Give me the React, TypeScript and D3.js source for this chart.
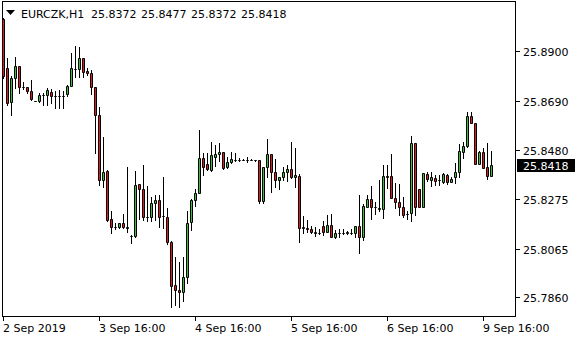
import React from "react";
import * as d3 from "d3";

const symbol = "EURCZK,H1";
const headerValues = ["25.8372", "25.8477", "25.8372", "25.8418"];

const opens = [
  25.9034, 25.8828, 25.8684, 25.8786, 25.8837, 25.8748, 25.8746, 25.8731, 25.8690, 25.8687,
  25.8716, 25.8716, 25.8727, 25.8708, 25.8708, 25.8710, 25.8718, 25.8752, 25.8826, 25.8824,
  25.8871, 25.8816, 25.8807, 25.8748, 25.8629, 25.8355, 25.8393, 25.8190, 25.8154, 25.8154,
  25.8171, 25.8154, 25.8118, 25.8116, 25.8338, 25.8317, 25.8199, 25.8199, 25.8258, 25.8271,
  25.8201, 25.8199, 25.8093, 25.7911, 25.7890, 25.7882, 25.7945, 25.8178, 25.8271, 25.8300,
  25.8448, 25.8422, 25.8397, 25.8452, 25.8465, 25.8473, 25.8410, 25.8431, 25.8439, 25.8439,
  25.8441, 25.8441, 25.8441, 25.8439, 25.8439, 25.8266, 25.8410, 25.8465, 25.8389, 25.8355,
  25.8367, 25.8389, 25.8401, 25.8367, 25.8372, 25.8154, 25.8152, 25.8148, 25.8133, 25.8131,
  25.8161, 25.8135, 25.8165, 25.8114, 25.8131, 25.8131, 25.8129, 25.8131, 25.8131, 25.8161,
  25.8114, 25.8241, 25.8275, 25.8241, 25.8237, 25.8233, 25.8372, 25.8372, 25.8279, 25.8260,
  25.8241, 25.8211, 25.8216, 25.8511, 25.8317, 25.8241, 25.8380, 25.8355, 25.8363, 25.8353,
  25.8346, 25.8376, 25.8346, 25.8367, 25.8389, 25.8473, 25.8498, 25.8625, 25.8596, 25.8422,
  25.8473, 25.8410, 25.8372,
];
const highs = [
  25.9038, 25.8871, 25.8795, 25.8875, 25.8837, 25.8769, 25.8748, 25.8778, 25.8690, 25.8723,
  25.8723, 25.8744, 25.8740, 25.8731, 25.8735, 25.8731, 25.8757, 25.8892, 25.8921, 25.8917,
  25.8871, 25.8828, 25.8820, 25.8748, 25.8663, 25.8536, 25.8397, 25.8224, 25.8173, 25.8173,
  25.8211, 25.8410, 25.8122, 25.8393, 25.8338, 25.8418, 25.8329, 25.8283, 25.8291, 25.8291,
  25.8367, 25.8237, 25.8097, 25.8030, 25.8008, 25.8030, 25.8224, 25.8275, 25.8317, 25.8566,
  25.8469, 25.8469, 25.8515, 25.8503, 25.8511, 25.8473, 25.8452, 25.8473, 25.8469, 25.8448,
  25.8443, 25.8452, 25.8443, 25.8439, 25.8439, 25.8410, 25.8528, 25.8465, 25.8443, 25.8367,
  25.8410, 25.8418, 25.8515, 25.8490, 25.8380, 25.8203, 25.8186, 25.8161, 25.8156, 25.8148,
  25.8182, 25.8207, 25.8211, 25.8144, 25.8148, 25.8148, 25.8139, 25.8148, 25.8161, 25.8291,
  25.8254, 25.8291, 25.8329, 25.8262, 25.8355, 25.8418, 25.8418, 25.8465, 25.8342, 25.8338,
  25.8283, 25.8224, 25.8541, 25.8511, 25.8317, 25.8384, 25.8389, 25.8389, 25.8376, 25.8376,
  25.8384, 25.8380, 25.8367, 25.8426, 25.8507, 25.8515, 25.8642, 25.8642, 25.8596, 25.8477,
  25.8490, 25.8511, 25.8477,
];
const lows = [
  25.8786, 25.8672, 25.8629, 25.8744, 25.8723, 25.8740, 25.8723, 25.8693, 25.8690, 25.8684,
  25.8672, 25.8672, 25.8680, 25.8659, 25.8659, 25.8659, 25.8710, 25.8752, 25.8790, 25.8790,
  25.8790, 25.8799, 25.8718, 25.8469, 25.8334, 25.8325, 25.8182, 25.8131, 25.8148, 25.8152,
  25.8152, 25.8135, 25.8089, 25.8114, 25.8190, 25.8186, 25.8182, 25.8182, 25.8186, 25.8156,
  25.8152, 25.8085, 25.7818, 25.7827, 25.7818, 25.7844, 25.7920, 25.8144, 25.8245, 25.8300,
  25.8376, 25.8397, 25.8393, 25.8414, 25.8435, 25.8401, 25.8405, 25.8426, 25.8435, 25.8435,
  25.8439, 25.8431, 25.8439, 25.8437, 25.8258, 25.8258, 25.8367, 25.8304, 25.8325, 25.8317,
  25.8355, 25.8350, 25.8363, 25.8325, 25.8093, 25.8131, 25.8135, 25.8131, 25.8118, 25.8127,
  25.8122, 25.8135, 25.8114, 25.8110, 25.8114, 25.8127, 25.8127, 25.8127, 25.8114, 25.8046,
  25.8101, 25.8241, 25.8190, 25.8211, 25.8224, 25.8194, 25.8321, 25.8279, 25.8237, 25.8207,
  25.8199, 25.8190, 25.8182, 25.8207, 25.8241, 25.8241, 25.8350, 25.8329, 25.8334, 25.8334,
  25.8342, 25.8338, 25.8346, 25.8342, 25.8367, 25.8448, 25.8494, 25.8596, 25.8422, 25.8422,
  25.8405, 25.8359, 25.8372,
];
const closes = [
  25.8795, 25.8680, 25.8786, 25.8837, 25.8748, 25.8746, 25.8729, 25.8695, 25.8690, 25.8716,
  25.8716, 25.8735, 25.8708, 25.8708, 25.8708, 25.8710, 25.8752, 25.8828, 25.8824, 25.8871,
  25.8811, 25.8807, 25.8748, 25.8629, 25.8355, 25.8389, 25.8186, 25.8156, 25.8154, 25.8171,
  25.8154, 25.8152, 25.8118, 25.8334, 25.8317, 25.8199, 25.8197, 25.8258, 25.8271, 25.8199,
  25.8201, 25.8093, 25.7907, 25.7890, 25.7882, 25.7945, 25.8173, 25.8271, 25.8300, 25.8448,
  25.8410, 25.8401, 25.8460, 25.8465, 25.8473, 25.8405, 25.8431, 25.8443, 25.8439, 25.8439,
  25.8441, 25.8441, 25.8441, 25.8439, 25.8266, 25.8410, 25.8465, 25.8389, 25.8355, 25.8367,
  25.8389, 25.8401, 25.8367, 25.8376, 25.8152, 25.8152, 25.8148, 25.8133, 25.8131, 25.8131,
  25.8135, 25.8165, 25.8114, 25.8131, 25.8131, 25.8131, 25.8133, 25.8131, 25.8161, 25.8114,
  25.8245, 25.8275, 25.8241, 25.8241, 25.8231, 25.8372, 25.8367, 25.8279, 25.8260, 25.8241,
  25.8207, 25.8209, 25.8511, 25.8241, 25.8241, 25.8384, 25.8357, 25.8367, 25.8350, 25.8353,
  25.8380, 25.8346, 25.8359, 25.8389, 25.8477, 25.8498, 25.8625, 25.8596, 25.8422, 25.8473,
  25.8405, 25.8372, 25.8418,
];

const yTicks = [25.89, 25.869, 25.848, 25.8275, 25.8065, 25.786];
const xTickIndex = [0, 24, 48, 72, 96, 120];
const xTickLabels = ["2 Sep 2019", "3 Sep 16:00", "4 Sep 16:00", "5 Sep 16:00", "6 Sep 16:00", "9 Sep 16:00"];
const lastPrice = 25.8418;

const BULL = "#38c238";
const BEAR = "#e3181c";
const FONT = "DejaVu Sans, sans-serif";

export default function App() {
  const W = 580;
  const H = 340;
  const n = opens.length;
  const y = d3.scaleLinear().domain([25.786, 25.89]).range([297, 51]);
  const x = d3.scaleLinear().domain([0, n - 1]).range([3, 3 + 4 * (n - 1)]);
  const py = (v: number) => Math.round(y(v));

  const frameL = 2, frameR = 515, frameT = 1, frameB = 316;

  return (
    <svg width={W} height={H} style={{ position: "fixed", left: 0, top: 0, background: "#fff" }}
      fontFamily={FONT}>
      <rect x={0} y={0} width={W} height={H} fill="#fff" />
      {/* candles */}
      {d3.range(n).map((i) => {
        const c = Math.round(x(i));
        const o = py(opens[i]);
        const cl = py(closes[i]);
        const hi = py(highs[i]);
        const lo = py(lows[i]);
        const top = Math.min(o, cl);
        const bot = Math.max(o, cl);
        const bull = closes[i] > opens[i];
        const x0 = c - 0.5, x1 = c + 1.5;
        const d = `M${x0},${top + 0.5}H${x1}V${bot + 0.5}H${x0}Z`;
        return (
          <g key={i}>
            <line x1={c + 0.5} x2={c + 0.5} y1={hi} y2={lo + 1} stroke="#000" strokeWidth={1} />
            <path d={d} fill={bull ? BULL : BEAR} stroke="#000" strokeWidth={1} />
          </g>
        );
      })}
      {/* frame */}
      <rect x={frameL + 0.5} y={frameT + 0.5} width={frameR - frameL} height={frameB - frameT}
        fill="none" stroke="#000" strokeWidth={1} />
      {/* y axis */}
      {yTicks.map((t) => {
        const yy = py(t);
        return (
          <g key={t}>
            <line x1={frameR + 1} x2={frameR + 5} y1={yy + 0.5} y2={yy + 0.5} stroke="#000" />
            <text x={523} y={yy + 5} fontSize={11} fill="#000">{t.toFixed(4)}</text>
          </g>
        );
      })}
      {/* last price */}
      <rect x={517} y={py(lastPrice) - 6} width={58} height={13} fill="#000" />
      <text x={523} y={py(lastPrice) + 5} fontSize={11} fill="#fff">{lastPrice.toFixed(4)}</text>
      {/* x axis */}
      {xTickIndex.map((idx, k) => {
        const c = Math.round(x(idx));
        return (
          <g key={idx}>
            <line x1={c + 0.5} x2={c + 0.5} y1={frameB + 1} y2={frameB + 5} stroke="#000" />
            <text x={c} y={331.5} fontSize={11} fill="#000">{xTickLabels[k]}</text>
          </g>
        );
      })}
      {/* header */}
      <polygon points="6,10 15,10 10.5,15" fill="#000" />
      <text x={21} y={17.5} fontSize={11} fill="#000">{symbol}</text>
      {headerValues.map((v, k) => (
        <text key={k} x={91 + 50 * k} y={17.5} fontSize={11} fill="#000">{v}</text>
      ))}
    </svg>
  );
}
